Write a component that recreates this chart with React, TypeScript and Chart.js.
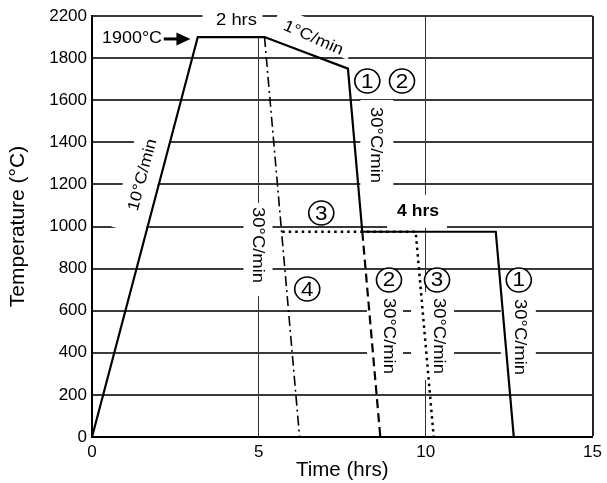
import React, { useEffect, useRef } from 'react';
import { Chart, registerables } from 'chart.js';

Chart.register(...registerables);

const FONT = "'Liberation Sans', Arial, Helvetica, sans-serif";

// Axis ticks
const xTickLabels = ['0', '5', '10', '15'];
const yTickLabels = ['0', '200', '400', '600', '800', '1000', '1200', '1400', '1600', '1800', '2200'];

// Path 1 (solid): heat, hold, slow cool, quench, 4 hr hold, cool
const path1Time = [0, 3.17, 5.17, 7.67, 8.1, 12.1, 12.64];
const path1Temp = [0, 1900, 1900, 1750, 975, 975, 0];
// Path 2 (dashed)
const path2Time = [8.1, 8.64];
const path2Temp = [975, 0];
// Path 3 (dotted)
const path3Time = [5.7, 9.7, 10.24];
const path3Temp = [975, 975, 0];
// Path 4 (dash-dot)
const path4Time = [5.17, 6.22];
const path4Temp = [1900, 0];

const toPts = (xs: number[], ys: number[]) => xs.map((x, i) => ({ x, y: ys[i] }));

type Note = { text: string; x: number; y: number; angle: number; size: number; stretch: number; bold?: boolean; bg?: number[] };

const textNotes: Note[] = [
  { text: '2 hrs', x: 4.33, y: 1976, angle: 0, size: 16, stretch: 1.15, bg: [-34, -16, 26, 15] },
  { text: '1900°C', x: 1.2, y: 1891, angle: 0, size: 16, stretch: 1.12 },
  { text: '1°C/min', x: 6.63, y: 1895, angle: 24, size: 16, stretch: 1.12, bg: [-42, -16, 40, 6] },
  { text: '10°C/min', x: 1.52, y: 1245, angle: -75, size: 16, stretch: 1.12, bg: [-58, -17, 45, 17] },
  { text: '30°C/min', x: 8.49, y: 1387, angle: 90, size: 16, stretch: 1.15, bg: [-45, -18, 47, 15] },
  { text: '30°C/min', x: 4.96, y: 912, angle: 90, size: 16, stretch: 1.15, bg: [-42, -15, 51, 14] },
  { text: '4 hrs', x: 9.77, y: 1069, angle: 0, size: 16, stretch: 1.1, bold: true, bg: [-31, -17, 29, 16] },
  { text: '30°C/min', x: 8.87, y: 480, angle: 90, size: 16, stretch: 1.15, bg: [-44, -15, 44, 21] },
  { text: '30°C/min', x: 10.37, y: 480, angle: 90, size: 16, stretch: 1.15, bg: [-44, -16, 44, 27] },
  { text: '30°C/min', x: 12.82, y: 475, angle: 90, size: 16, stretch: 1.15, bg: [-45, -16, 44, 19] },
];

const circleNotes = [
  { text: '1', x: 8.25, y: 1691 },
  { text: '2', x: 9.29, y: 1691 },
  { text: '3', x: 6.87, y: 1064 },
  { text: '4', x: 6.45, y: 703 },
  { text: '2', x: 8.9, y: 746 },
  { text: '3', x: 10.34, y: 746 },
  { text: '1', x: 12.79, y: 746 },
];

const arrowNote = { x0: 2.15, x1: 2.95, y: 1891 };

const notesPlugin = {
  id: 'notes',
  beforeDatasetsDraw(chart: any) {
    const ctx: CanvasRenderingContext2D = chart.ctx;
    const xs = chart.scales.x;
    const ys = chart.scales.y;
    for (const a of textNotes) {
      const px = xs.getPixelForValue(a.x);
      const py = ys.getPixelForValue(a.y);
      ctx.save();
      ctx.translate(px, py);
      ctx.rotate((a.angle * Math.PI) / 180);
      if (a.bg) {
        ctx.fillStyle = '#fff';
        ctx.fillRect(a.bg[0], a.bg[1], a.bg[2] - a.bg[0], a.bg[3] - a.bg[1]);
      }
      ctx.scale(a.stretch, 1);
      ctx.font = `${a.bold ? 'bold ' : ''}${a.size}px ${FONT}`;
      ctx.fillStyle = '#000';
      ctx.textAlign = 'center';
      ctx.textBaseline = 'middle';
      ctx.fillText(a.text, 0, 0);
      ctx.restore();
    }
    for (const c of circleNotes) {
      const px = xs.getPixelForValue(c.x);
      const py = ys.getPixelForValue(c.y);
      ctx.save();
      ctx.beginPath();
      ctx.ellipse(px, py, 12.5, 12, 0, 0, Math.PI * 2);
      ctx.fillStyle = '#fff';
      ctx.fill();
      ctx.lineWidth = 1.6;
      ctx.strokeStyle = '#000';
      ctx.stroke();
      ctx.translate(px, py + 1);
      ctx.scale(1.12, 1);
      ctx.font = `20px ${FONT}`;
      ctx.fillStyle = '#000';
      ctx.textAlign = 'center';
      ctx.textBaseline = 'middle';
      ctx.fillText(c.text, 0, 0);
      ctx.restore();
    }
    {
      const x0 = xs.getPixelForValue(arrowNote.x0);
      const x1 = xs.getPixelForValue(arrowNote.x1);
      const y = ys.getPixelForValue(arrowNote.y);
      ctx.save();
      ctx.strokeStyle = '#000';
      ctx.fillStyle = '#000';
      ctx.lineWidth = 3;
      ctx.beginPath();
      ctx.moveTo(x0, y);
      ctx.lineTo(x1 - 12, y);
      ctx.stroke();
      ctx.beginPath();
      ctx.moveTo(x1, y);
      ctx.lineTo(x1 - 14, y - 6.5);
      ctx.lineTo(x1 - 14, y + 6.5);
      ctx.closePath();
      ctx.fill();
      ctx.restore();
    }
  },
};

export default function App() {
  const ref = useRef<HTMLCanvasElement | null>(null);
  useEffect(() => {
    if (!ref.current) return;
    const common = { pointRadius: 0, fill: false, borderColor: '#000', tension: 0, borderJoinStyle: 'miter' as const };
    const chart = new Chart(ref.current, {
      type: 'line',
      data: {
        datasets: [
          { ...common, label: '1', data: toPts(path1Time, path1Temp), borderWidth: 2.2 },
          { ...common, label: '2', data: toPts(path2Time, path2Temp), borderWidth: 2.2, borderDash: [9, 5] },
          { ...common, label: '3', data: toPts(path3Time, path3Temp), borderWidth: 2.5, borderDash: [2.5, 4] },
          { ...common, label: '4', data: toPts(path4Time, path4Temp), borderWidth: 1.6, borderDash: [10, 4, 2, 4] },
        ],
      },
      options: {
        animation: false,
        responsive: true,
        maintainAspectRatio: false,
        layout: { padding: { top: 16, right: 13, left: 0, bottom: 0 } },
        plugins: { legend: { display: false }, tooltip: { enabled: false } },
        scales: {
          x: {
            type: 'linear',
            min: 0,
            max: 15,
            afterFit: (s: any) => { s.height = 46; },
            ticks: {
              stepSize: 5,
              autoSkip: false,
              maxRotation: 0,
              padding: 5,
              color: '#000',
              font: { family: FONT, size: 17 },
              callback: (_v: any, i: number) => xTickLabels[i],
            },
            grid: {
              drawTicks: false,
              color: (c: any) => (c.tick && c.tick.value === 15 ? '#222' : '#333'),
              lineWidth: (c: any) => (c.tick && c.tick.value === 15 ? 2 : 1),
            },
            border: { display: true, color: '#000', width: 2 },
            title: { display: true, text: 'Time (hrs)', color: '#000', font: { family: FONT, size: 20.5 }, padding: { top: 0, bottom: 0 } },
          },
          y: {
            type: 'linear',
            min: 0,
            max: 2000,
            afterFit: (s: any) => { s.width = 92; },
            ticks: {
              stepSize: 200,
              autoSkip: false,
              padding: 5,
              color: '#000',
              font: { family: FONT, size: 17 },
              callback: (_v: any, i: number) => yTickLabels[i],
            },
            grid: { drawTicks: false, color: '#3a3a3a', lineWidth: 2 },
            border: { display: true, color: '#000', width: 2 },
            title: { display: true, text: 'Temperature (°C)', color: '#000', font: { family: FONT, size: 21 }, padding: { top: 6, bottom: 0 } },
          },
        },
      },
      plugins: [notesPlugin],
    });
    return () => chart.destroy();
  }, []);
  return (
    <div style={{ position: 'absolute', left: 0, top: 0, width: 607, height: 483, background: '#fff' }}>
      <canvas ref={ref} />
    </div>
  );
}
